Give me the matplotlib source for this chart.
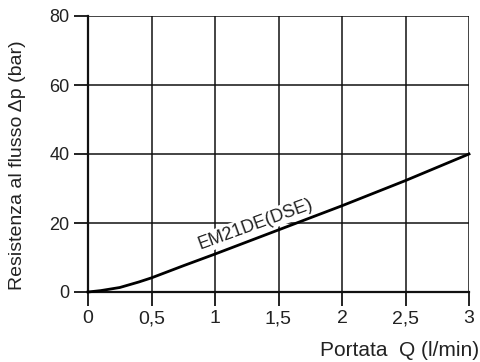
import matplotlib
matplotlib.use("Agg")
import matplotlib.pyplot as plt

plt.rcParams['font.family'] = ['Liberation Sans', 'DejaVu Sans']

flow = [0, 0.1, 0.25, 0.4, 0.5, 0.75, 1.0, 1.5, 2.0, 2.5, 3.0]
dp = [0, 0.4, 1.3, 2.9, 4.1, 7.6, 11.0, 18.0, 25.0, 32.3, 40.0]
xticks = [0, 0.5, 1, 1.5, 2, 2.5, 3]
xticklabels = ['0', '0,5', '1', '1,5', '2', '2,5', '3']
yticks = [0, 20, 40, 60, 80]
curve_label = 'EM21DE(DSE)'

fig = plt.figure(figsize=(4.8, 3.62), dpi=100)
ax = fig.add_axes([88/480, 1-292/362, (469-88)/480, (292-16)/362])
ax.set_xlim(0, 3)
ax.set_ylim(0, 80)
ax.set_xticks(xticks)
ax.set_xticklabels(xticklabels)
ax.set_yticks(yticks)
ax.grid(True, color='#111111', linewidth=1.1)
for s in ['top', 'right']:
    ax.spines[s].set_visible(False)
for s in ['left', 'bottom']:
    ax.spines[s].set_linewidth(1.6)
    ax.spines[s].set_color('#111111')
ax.tick_params(axis='both', direction='out', length=10, width=1.3, color='#111111',
               labelcolor='#222222')
ax.tick_params(axis='y', labelsize=13, pad=3.5)
ax.tick_params(axis='x', labelsize=14, pad=3)
ax.plot(flow, dp, color='black', linewidth=2, clip_on=False, zorder=3)
ax.text(1.32, 19.6, curve_label, rotation=20, fontsize=13, ha='center', va='center',
        color='#222222', zorder=2.5,
        bbox=dict(facecolor='white', edgecolor='none', pad=1))
fig.text(479/480, 1-350/362, 'Portata  Q (l/min)', ha='right', va='center', fontsize=15, color='#222222')
fig.text(18/480, 1-165/362, 'Resistenza al flusso Δp (bar)', rotation=90, ha='center', va='center',
         fontsize=14, color='#222222')
fig.savefig('out.png', dpi=100)
